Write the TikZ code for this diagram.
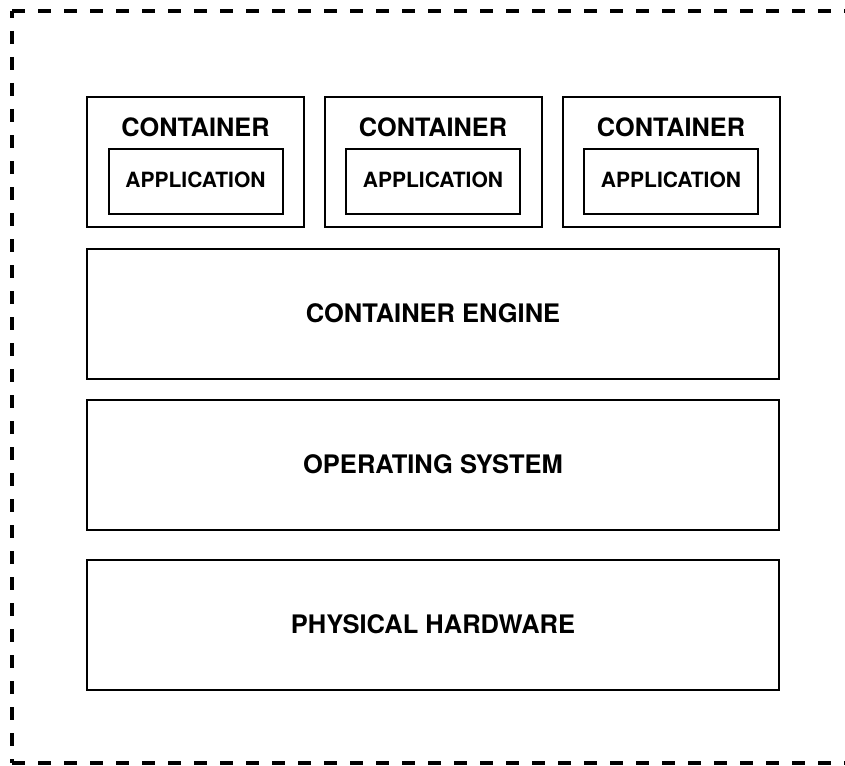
\documentclass[tikz,border=0pt]{standalone}
\usepackage{fontspec}
\setmainfont{TeX Gyre Heros}
\begin{document}
\begin{tikzpicture}[x=1pt,y=-1pt,
  layer/.style={draw=black,line width=2pt,rectangle,inner sep=0pt,
    minimum width=692pt,minimum height=130pt,
    font=\fontsize{25.5}{29}\selectfont\bfseries},
  cbox/.style={draw=black,line width=2pt,rectangle,inner sep=0pt,
    minimum width=217pt,minimum height=130pt},
  abox/.style={draw=black,line width=2pt,rectangle,inner sep=0pt,
    minimum width=174pt,minimum height=65pt,text depth=4pt,
    font=\fontsize{21}{24}\selectfont\bfseries},
  clabel/.style={inner sep=0pt,font=\fontsize{25.3}{29}\selectfont\bfseries},
  frame/.style={draw=black,line width=4pt,dash pattern=on 13pt off 13pt}]
\useasboundingbox (0,0) rectangle (845,765);

% outer dashed boundary
\coordinate (tl) at (12,11);
\coordinate (tr) at (852,11);
\coordinate (bl) at (12,763);
\coordinate (br) at (852,763);
\draw[frame] (tl) -- (tr);
\draw[frame,dash phase=6pt] (tl) -- (bl);
\draw[frame] (bl) -- (br);

% three containers, each holding an application
\foreach \i/\cx in {1/195.5,2/433,3/671}{
  \node[cbox] (c\i) at (\cx,162) {};
  \node[clabel] (cl\i) at (\cx,127) {CONTAINER};
  \node[abox] (a\i) at (\cx,181.5) {APPLICATION};
}

% stacked layers
\node[layer] (engine) at (433,313.5) {CONTAINER ENGINE};
\node[layer] (os) at (433,464.5) {OPERATING SYSTEM};
\node[layer] (hw) at (433,624.5) {PHYSICAL HARDWARE};
\end{tikzpicture}
\end{document}
